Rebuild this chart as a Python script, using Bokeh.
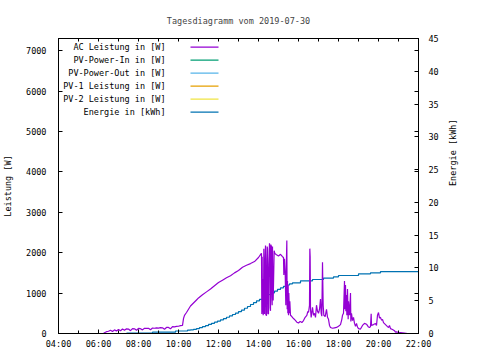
import math
import pandas as pd
from bokeh.plotting import figure
from bokeh.models import Range1d, LinearAxis, DatetimeAxis, FixedTicker, DatetimeTickFormatter, Label, BoxAnnotation
from bokeh.embed import file_html
from bokeh.resources import INLINE

DAY = "2019-07-30"
TITLE = "Tagesdiagramm vom 2019-07-30"
Y_LABEL = "Leistung [W]"
Y2_LABEL = "Energie [kWh]"

# AC Leistung [W]
ac_time = ["06:15","06:18","06:24","06:30","06:36","06:42","06:48","06:54","07:00","07:06","07:12","07:18",
           "07:24","07:30","07:36","07:42","07:48","07:54","08:00","08:06","08:12","08:18","08:24","08:30",
           "08:36","08:42","08:48","08:54","09:00","09:06","09:12","09:18","09:24","09:30","09:36","09:42",
           "09:48","09:54","10:00","10:06","10:12","10:15","10:18","10:24","10:30","10:36","10:42","10:48",
           "10:54","11:00","11:12","11:24","11:36","11:48","12:00","12:12","12:24","12:36","12:48","13:00",
           "13:12","13:24","13:36","13:48","14:00","14:06","14:08","14:09","14:10","14:11","14:12","14:13",
           "14:14","14:15","14:16","14:18","14:20","14:21","14:22","14:24","14:25","14:26","14:27","14:28",
           "14:30","14:31","14:33","14:34","14:35","14:36","14:37","14:39","14:40","14:41","14:42","14:43",
           "14:44","14:45","14:47","14:49","14:54","15:00","15:06","15:12","15:15","15:16","15:18","15:20",
           "15:22","15:24","15:25","15:26","15:27","15:28","15:29","15:30","15:31","15:33","15:34","15:36",
           "15:40","15:45","15:50","15:55","16:00","16:05","16:10","16:15","16:20","16:25","16:28","16:30",
           "16:33","16:34","16:35","16:36","16:38","16:42","16:45","16:48","16:51","16:54","16:57","17:00",
           "17:03","17:06","17:08","17:10","17:12","17:14","17:16","17:20","17:24","17:27","17:30","17:33",
           "17:36","17:42","17:48","17:54","18:00","18:06","18:10","18:12","18:15","18:18","18:19","18:21",
           "18:22","18:24","18:25","18:27","18:29","18:30","18:33","18:36","18:37","18:39","18:42","18:45",
           "18:48","18:51","18:54","18:57","19:00","19:06","19:12","19:18","19:24","19:30","19:33","19:36",
           "19:38","19:39","19:45","19:51","19:54","19:57","20:00","20:03","20:06","20:09","20:12","20:15",
           "20:21","20:27","20:30","20:33","20:36","20:42","20:48","20:51","20:54","21:00","21:06","21:12",
           "21:18","21:27"]
ac_watt = [0,20,45,55,80,50,90,60,100,70,110,80,
           115,110,70,120,115,80,125,120,90,130,125,130,
           95,135,130,140,135,145,140,105,150,150,115,170,
           165,175,180,195,200,370,450,520,600,680,730,780,
           830,880,960,1030,1100,1180,1260,1320,1380,1430,1500,1560,
           1640,1690,1730,1780,1880,1950,1980,1980,480,1900,520,1350,
           450,600,2100,480,1900,2180,470,440,1800,2150,2100,500,
           480,1700,2230,2000,640,560,2200,2150,900,700,2150,1100,
           820,1200,2050,1980,1950,1920,1960,1900,1880,1450,1850,1500,
           700,1900,2300,600,1300,500,1200,450,1000,500,800,450,
           420,370,330,280,260,300,270,320,400,450,550,520,
           700,2100,1900,600,400,650,450,500,400,700,550,500,
           600,850,500,430,1760,700,450,420,600,400,350,200,
           150,130,140,150,180,220,350,450,500,1300,600,1200,
           550,950,450,1100,350,800,450,1000,300,500,320,400,
           250,180,250,160,120,110,200,250,230,160,150,170,
           490,200,220,250,200,450,520,380,400,330,350,270,
           220,170,150,200,120,100,70,30,40,25,20,15,
           10,0]

# Energie [kWh]
en_time = ["07:24","08:42","09:51","10:27","10:36","10:45","10:54","11:03","11:12","11:21","11:30","11:39",
           "11:48","11:57","12:06","12:15","12:24","12:33","12:42","12:51","13:00","13:09","13:18","13:27",
           "13:36","13:45","13:54","14:03","14:12","14:21","14:30","14:39","14:48","14:57","15:06","15:15",
           "15:24","15:33","15:42","16:06","16:42","17:15","17:45","18:00","19:00","19:36","20:06","22:00"]
en_kwh = [0.05,0.2,0.38,0.5,0.56,0.64,0.75,0.9,1.05,1.2,1.38,1.55,
          1.72,1.9,2.09,2.28,2.48,2.68,2.9,3.12,3.35,3.58,3.85,4.12,
          4.42,4.7,4.98,5.22,5.45,5.7,5.95,6.2,6.45,6.72,6.97,7.2,
          7.4,7.58,7.73,8.04,8.24,8.45,8.65,8.85,9.1,9.25,9.45,9.45]

# series without visible values
pv_in_time, pv_in_watt = [], []
pv_out_time, pv_out_watt = [], []
pv1_time, pv1_watt = [], []
pv2_time, pv2_watt = [], []

legend_labels = ["AC Leistung in [W]", "PV-Power-In in [W]", "PV-Power-Out in [W]",
                 "PV-1 Leistung in [W]", "PV-2 Leistung in [W]", "Energie in [kWh]"]
colors = ["#9400d3", "#009e73", "#56b4e9", "#e69f00", "#f0e442", "#0072b2"]

x_tick_labels = ["04:00","06:00","08:00","10:00","12:00","14:00","16:00","18:00","20:00","22:00"]
x_minor_labels = ["%02d:00" % h for h in range(4, 23)]
y_ticks = [0,1000,2000,3000,4000,5000,6000,7000]
y_max = 7300
y2_ticks = [0,5,10,15,20,25,30,35,40,45]
y2_max = 45

FONT = "DejaVu Sans Mono"
FS = "8.5px"
FW, FH = 360, 295

def to_ms(times):
    return [pd.Timestamp(DAY + " " + t).value // 10**6 for t in times]

def to_dt(times):
    return pd.to_datetime([DAY + " " + t for t in times])

p = figure(frame_width=FW, frame_height=FH, output_backend="svg", toolbar_location=None,
           x_axis_type="datetime", min_border_left=50, min_border_right=54,
           min_border_top=38, min_border_bottom=22)
p.x_range = Range1d(to_ms(["04:00"])[0], to_ms(["22:00"])[0])
p.y_range = Range1d(0, y_max)
p.extra_y_ranges = {"energy": Range1d(0, y2_max)}
p.grid.visible = False
p.outline_line_color = "black"
p.outline_line_width = 1
p.background_fill_color = "white"
p.border_fill_color = "white"

p.title.text = TITLE
p.title.align = "center"
p.title.text_font = FONT
p.title.text_font_size = FS
p.title.text_font_style = "normal"
p.title.standoff = 25

def style_axis(ax):
    ax.axis_line_color = "black"
    ax.major_tick_line_color = "black"
    ax.minor_tick_line_color = "black"
    ax.major_tick_in = 4
    ax.major_tick_out = 0
    ax.minor_tick_in = 3
    ax.minor_tick_out = 0
    ax.major_label_text_font = FONT
    ax.major_label_text_font_size = FS
    ax.major_label_text_color = "black"
    ax.axis_label_text_font = FONT
    ax.axis_label_text_font_size = FS
    ax.axis_label_text_font_style = "normal"
    ax.axis_label_text_color = "black"

xa = p.xaxis[0]
xa.ticker = FixedTicker(ticks=to_ms(x_tick_labels), minor_ticks=to_ms(x_minor_labels))
xa.formatter = DatetimeTickFormatter(hours="%H:%M", days="%H:%M", minutes="%H:%M")
style_axis(xa)
xa.major_label_standoff = 5

# mirrored ticks on the top border (minor ticks only, so no labels)
xt = DatetimeAxis(ticker=FixedTicker(ticks=[], minor_ticks=to_ms(x_minor_labels)))
style_axis(xt)
xt.minor_tick_in = 3
xt.major_label_standoff = 0
xt.axis_label_standoff = 0
p.add_layout(xt, "above")

ya = p.yaxis[0]
ya.ticker = FixedTicker(ticks=y_ticks, minor_ticks=[])
ya.axis_label = Y_LABEL
style_axis(ya)
ya.major_label_standoff = 12
ya.axis_label_standoff = 10

ea = LinearAxis(y_range_name="energy",
                ticker=FixedTicker(ticks=y2_ticks, minor_ticks=[v * y2_max / y_max for v in y_ticks]),
                axis_label=Y2_LABEL)
style_axis(ea)
ea.minor_tick_in = 4
ea.major_label_standoff = 10
ea.axis_label_standoff = 11
try:
    ea.axis_label_orientation = math.pi / 2
except Exception:
    pass
p.add_layout(ea, "right")

# data
p.line(to_dt(pv_in_time), pv_in_watt, color=colors[1], line_width=1)
p.line(to_dt(pv_out_time), pv_out_watt, color=colors[2], line_width=1)
p.line(to_dt(pv1_time), pv1_watt, color=colors[3], line_width=1)
p.line(to_dt(pv2_time), pv2_watt, color=colors[4], line_width=1)
p.step(to_dt(en_time), en_kwh, mode="after", color=colors[5], line_width=1.2, y_range_name="energy")
p.line(to_dt(ac_time), ac_watt, color=colors[0], line_width=1.2)

# gnuplot-style key (text right aligned, sample to the right); screen units relative to frame
for i, (lab, col) in enumerate(zip(legend_labels, colors)):
    yc = 286.3 - i * 13.0
    p.add_layout(Label(x=107, y=yc, x_units="screen", y_units="screen", text=lab,
                       text_align="right", text_baseline="middle", text_font=FONT,
                       text_font_size=FS, text_color="black"))
    p.add_layout(BoxAnnotation(left=132, right=160, top=yc + 0.6, bottom=yc - 0.6,
                               left_units="screen", right_units="screen",
                               top_units="screen", bottom_units="screen",
                               fill_color=col, fill_alpha=1, line_color=None))

open("out.html", "w").write(file_html(p, INLINE))
